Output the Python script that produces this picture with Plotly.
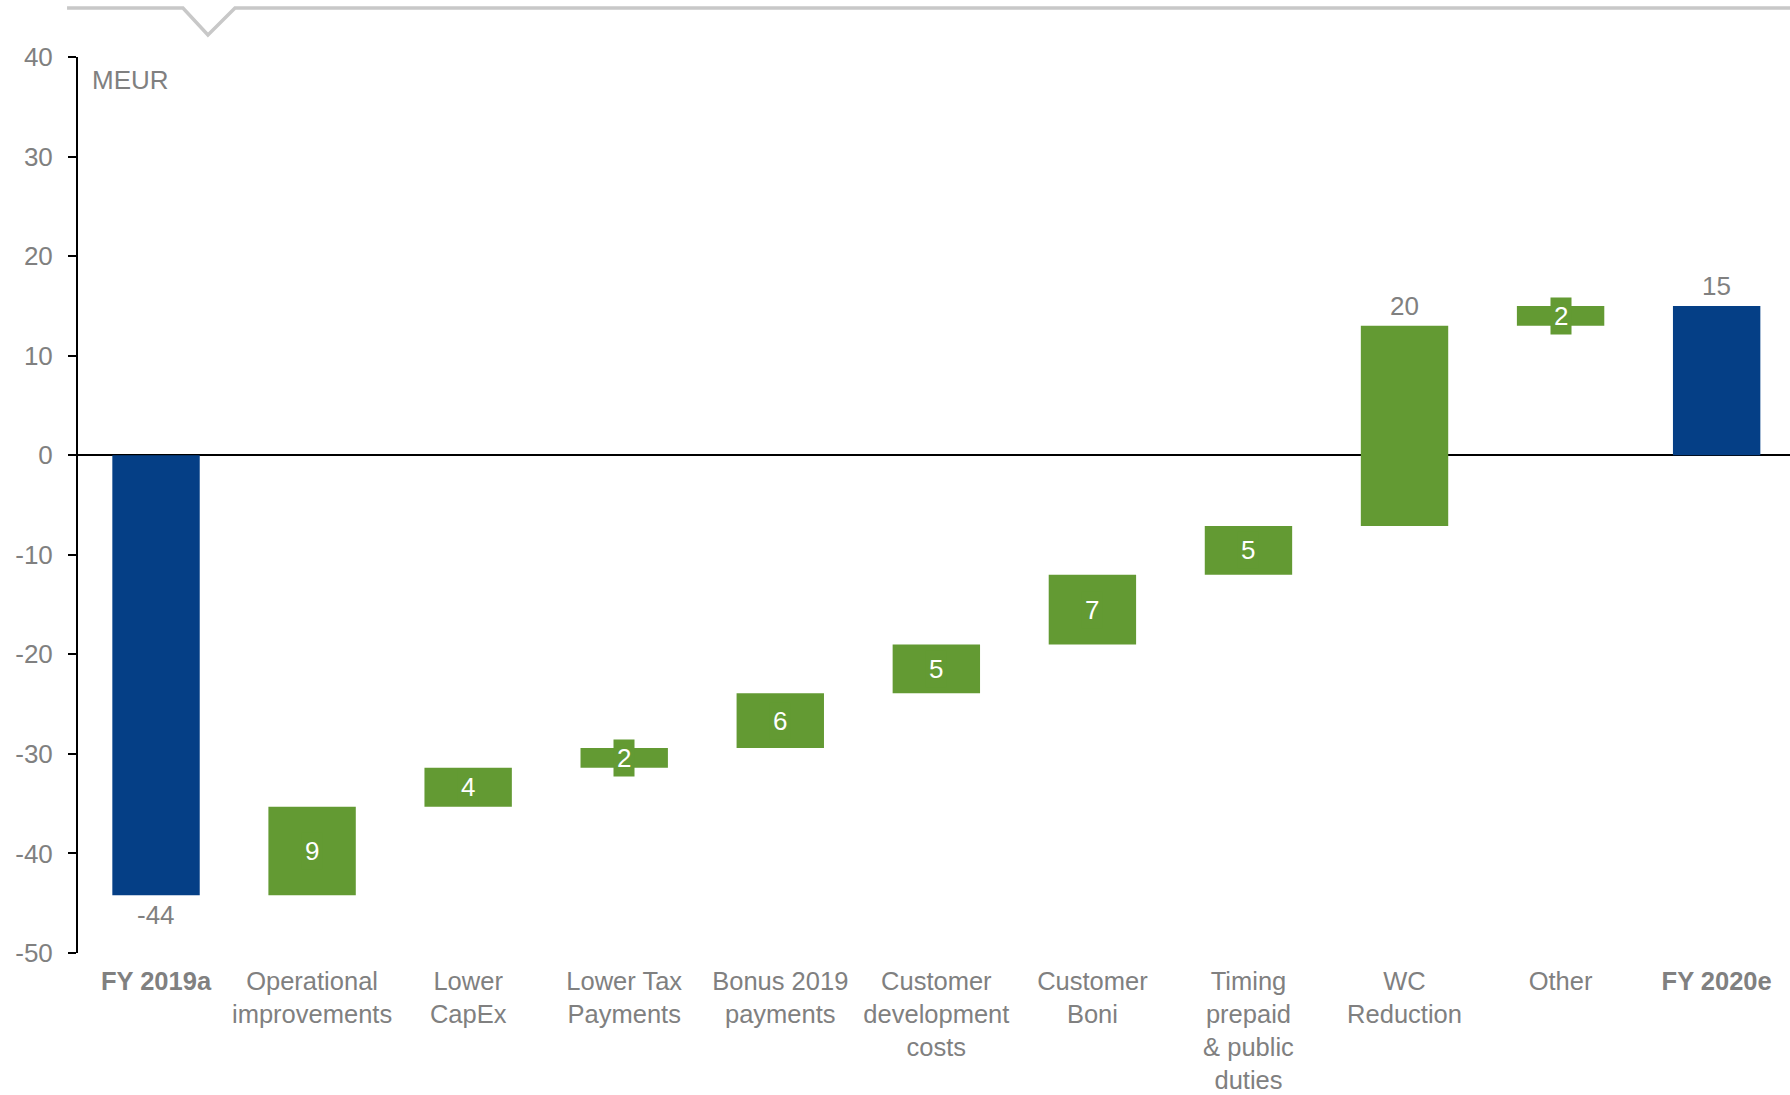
import plotly.graph_objects as go

# ---- data ----
categories = ["FY 2019a", "Operational<br>improvements", "Lower<br>CapEx", "Lower Tax<br>Payments",
              "Bonus 2019<br>payments", "Customer<br>development<br>costs", "Customer<br>Boni",
              "Timing<br>prepaid<br>& public<br>duties", "WC<br>Reduction", "Other", "FY 2020e"]
values = [-44.2, 8.9, 3.9, 2.0, 5.5, 4.9, 7.0, 4.9, 20.1, 2.0, 15.0]
measures = ["absolute"] + ["relative"] * 9 + ["total"]
bold_categories = ["FY 2019a", "FY 2020e"]
y_ticks = [-50, -40, -30, -20, -10, 0, 10, 20, 30, 40]
unit_label = "MEUR"

# label placement style per bar (not data)
label_style = ["below", "inside", "inside", "inside", "inside", "inside",
               "inside", "inside", "above", "inside", "above"]

GREEN = "#639A33"
BLUE = "#053F86"
GREY = "#808080"
FONT = "Liberation Sans, Arial, sans-serif"
FS = 26
FS_X = 25.5

ticktext = [f"<b>{c}</b>" if c in bold_categories else c for c in categories]

fig = go.Figure(go.Waterfall(
    x=categories,
    y=values,
    measure=measures,
    increasing=dict(marker=dict(color=GREEN, line=dict(width=0))),
    decreasing=dict(marker=dict(color=GREEN, line=dict(width=0))),
    totals=dict(marker=dict(color=BLUE, line=dict(width=0))),
    connector=dict(visible=False),
    textinfo="none",
    hoverinfo="x+y",
))

# labels computed from data
running = 0.0
annotations = []
for cat, val, meas, style in zip(categories, values, measures, label_style):
    if meas == "absolute":
        lo, hi = min(0, val), max(0, val)
        running = val
        shown = val
    elif meas == "total":
        lo, hi = min(0, running), max(0, running)
        shown = running
    else:
        lo, hi = running, running + val
        running += val
        shown = val
    txt = f"{shown:.0f}"
    if style == "inside":
        annotations.append(dict(x=cat, y=(lo + hi) / 2, text=txt, showarrow=False,
                                font=dict(family=FONT, size=FS, color="white"),
                                bgcolor=GREEN, borderpad=3, xanchor="center", yanchor="middle"))
    elif style == "above":
        annotations.append(dict(x=cat, y=hi, text=txt, showarrow=False,
                                font=dict(family=FONT, size=FS, color=GREY),
                                xanchor="center", yanchor="bottom", yshift=3))
    else:
        annotations.append(dict(x=cat, y=lo, text=txt, showarrow=False,
                                font=dict(family=FONT, size=FS, color=GREY),
                                xanchor="center", yanchor="top", yshift=-3))

annotations.append(dict(x=0.007, y=0.974, xref="paper", yref="paper", text=unit_label,
                        showarrow=False, font=dict(family=FONT, size=FS, color=GREY),
                        xanchor="left", yanchor="middle"))

fig.update_layout(
    width=1790, height=1095,
    margin=dict(l=78, r=0, t=57, b=142, autoexpand=False),
    plot_bgcolor="white", paper_bgcolor="white",
    showlegend=False,
    waterfallgap=0.44,
    font=dict(family=FONT, size=FS, color=GREY),
    annotations=annotations,
    shapes=[dict(type="path", xref="paper", yref="paper",
                 path="M -0.0064,1.0547 L 0.0613,1.0547 L 0.0759,1.0246 L 0.0917,1.0547 L 1.0,1.0547",
                 line=dict(color="#C8C8C8", width=3.5))],
    xaxis=dict(type="category", tickmode="array", tickvals=categories, ticktext=ticktext,
               range=[-0.5, 10.47], showgrid=False, showline=False, ticks="",
               ticklabelstandoff=10, automargin=False,
               tickfont=dict(family=FONT, size=FS_X, color=GREY), zeroline=False),
    yaxis=dict(range=[-50, 40], tickmode="array", tickvals=y_ticks,
               ticktext=[str(v) for v in y_ticks], showgrid=False,
               zeroline=True, zerolinecolor="black", zerolinewidth=1.5,
               showline=True, linecolor="black", linewidth=2,
               ticks="outside", ticklen=8, tickcolor="black", tickwidth=2,
               ticklabelstandoff=10, automargin=False,
               tickfont=dict(family=FONT, size=FS, color=GREY)),
)

fig.write_html("out.html")
